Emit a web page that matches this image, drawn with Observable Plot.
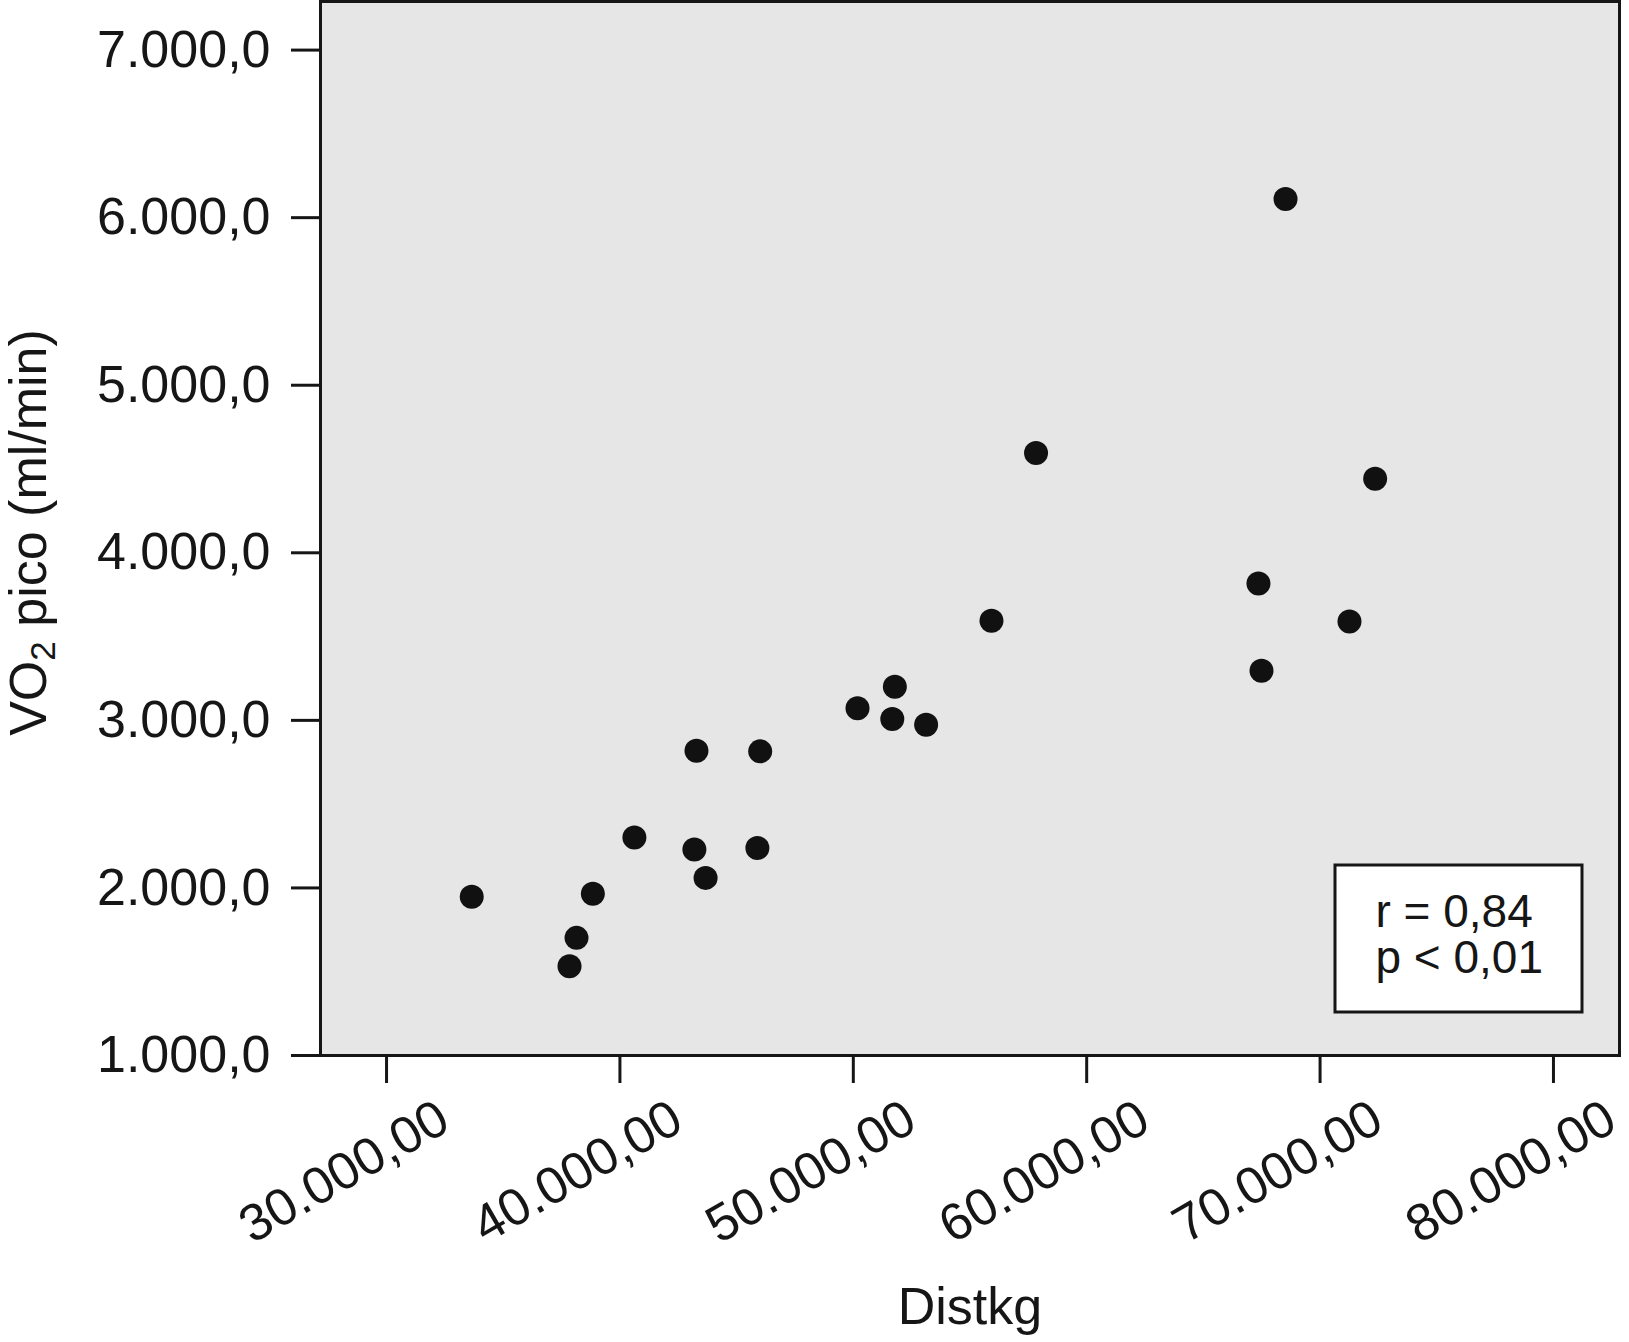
<!DOCTYPE html>
<html>
<head>
<meta charset="utf-8">
<script src="https://cdn.jsdelivr.net/npm/d3@7"></script>
<script src="https://cdn.jsdelivr.net/npm/@observablehq/plot@0.6"></script>
<style>
  html, body { margin: 0; padding: 0; background: #ffffff; }
  #chart svg { display: block; }
</style>
</head>
<body>
<div id="chart"></div>
<script>
// ---- data ----
const distkg = [33650, 37840, 38140, 38840, 40620, 43190, 43280, 43670, 45890, 46010,
                50180, 51670, 51780, 53120, 55920, 57830, 67360, 67490, 68520, 71260, 72360];
const vo2pico = [1947, 1533, 1702, 1965, 2301, 2229, 2819, 2060, 2238, 2815,
                 3072, 3008, 3200, 2974, 3594, 4595, 3817, 3296, 6111, 3590, 4442];
const xTicks = [30000, 40000, 50000, 60000, 70000, 80000];
const yTicks = [1000, 2000, 3000, 4000, 5000, 6000, 7000];
const xDomain = [27170, 82830];
const yDomain = [1000, 7290];
const xTitle = "Distkg";
const yTitleParts = ["VO", "2", " pico (ml/min)"];
const statsLines = ["r = 0,84", "p < 0,01"];

const points = distkg.map((d, i) => ({x: d, y: vo2pico[i]}));

const loc = d3.formatLocale({decimal: ",", thousands: ".", grouping: [3], currency: ["", ""]});
const fmtX = loc.format(",.2f");
const fmtY = loc.format(",.1f");

const INK = "#161616";
const PANEL = "#e6e6e6";

const plot = Plot.plot({
  width: 1629,
  height: 1342,
  marginLeft: 320,
  marginRight: 10,
  marginTop: 1,
  marginBottom: 287,
  style: {fontFamily: "'Liberation Sans', Arial, Helvetica, sans-serif", fontSize: "52px", color: INK, background: "#ffffff"},
  x: {domain: xDomain, axis: null},
  y: {domain: yDomain, axis: null},
  marks: [
    Plot.frame({fill: PANEL, stroke: INK, strokeWidth: 3}),
    Plot.axisY({ticks: yTicks, tickSize: 29, tickPadding: 21, tickFormat: fmtY, strokeWidth: 3, fontSize: 52, label: null}),
    Plot.axisX({ticks: xTicks, tickSize: 28, strokeWidth: 3, fill: "none", label: null}),
    Plot.text(xTicks, {x: d => d, text: d => fmtX(d), frameAnchor: "bottom", rotate: -30,
      textAnchor: "end", lineAnchor: "bottom", dx: 66, dy: 73, fontSize: 52, fill: INK}),
    Plot.text([xTitle], {frameAnchor: "bottom", textAnchor: "middle", lineAnchor: "bottom",
      dy: 268, fontSize: 52, fill: INK}),
    Plot.text([yTitleParts.join("")], {frameAnchor: "left", rotate: -90, textAnchor: "middle",
      lineAnchor: "bottom", dx: -275, dy: 4, fontSize: 52, fill: INK}),
    Plot.dot(points, {x: "x", y: "y", r: 12, fill: "#111111", stroke: "none"}),
    Plot.text([statsLines.join("\n")], {frameAnchor: "bottom-right", textAnchor: "start", lineAnchor: "bottom",
      dx: -244, dy: -83, fontSize: 46, lineHeight: 1.0, fill: INK})
  ]
});

document.getElementById("chart").appendChild(plot);

const ns = "http://www.w3.org/2000/svg";
const allTexts = Array.from(plot.querySelectorAll("text"));

// subscript in the y title
const yTitleFull = yTitleParts.join("");
const ytText = allTexts.find(t => t.textContent === yTitleFull);
if (ytText) {
  ytText.textContent = "";
  const t1 = document.createElementNS(ns, "tspan"); t1.textContent = yTitleParts[0];
  const t2 = document.createElementNS(ns, "tspan"); t2.textContent = yTitleParts[1];
  t2.setAttribute("font-size", "35"); t2.setAttribute("dy", "9");
  const t3 = document.createElementNS(ns, "tspan"); t3.textContent = yTitleParts[2];
  t3.setAttribute("dy", "-9");
  ytText.append(t1, t2, t3);
}

// white box behind the statistics text, placed relative to the frame
const fr = Array.from(plot.querySelectorAll("rect")).find(r => (r.getAttribute("fill") || "").toLowerCase() === PANEL);
const stText = allTexts.find(t => t.textContent.startsWith(statsLines[0]));
if (stText) {
  const frame = fr
    ? {x: +fr.getAttribute("x"), y: +fr.getAttribute("y"), w: +fr.getAttribute("width"), h: +fr.getAttribute("height")}
    : {x: 320, y: 1, w: 1629 - 330, h: 1342 - 288};
  const boxW = 247, boxH = 147;
  const rect = document.createElementNS(ns, "rect");
  rect.setAttribute("x", frame.x + frame.w - 37 - boxW);
  rect.setAttribute("y", frame.y + frame.h - 43 - boxH);
  rect.setAttribute("width", boxW);
  rect.setAttribute("height", boxH);
  rect.setAttribute("fill", "#ffffff");
  rect.setAttribute("stroke", INK);
  rect.setAttribute("stroke-width", 3);
  const g = stText.parentNode;
  g.parentNode.insertBefore(rect, g);
}
</script>
</body>
</html>
